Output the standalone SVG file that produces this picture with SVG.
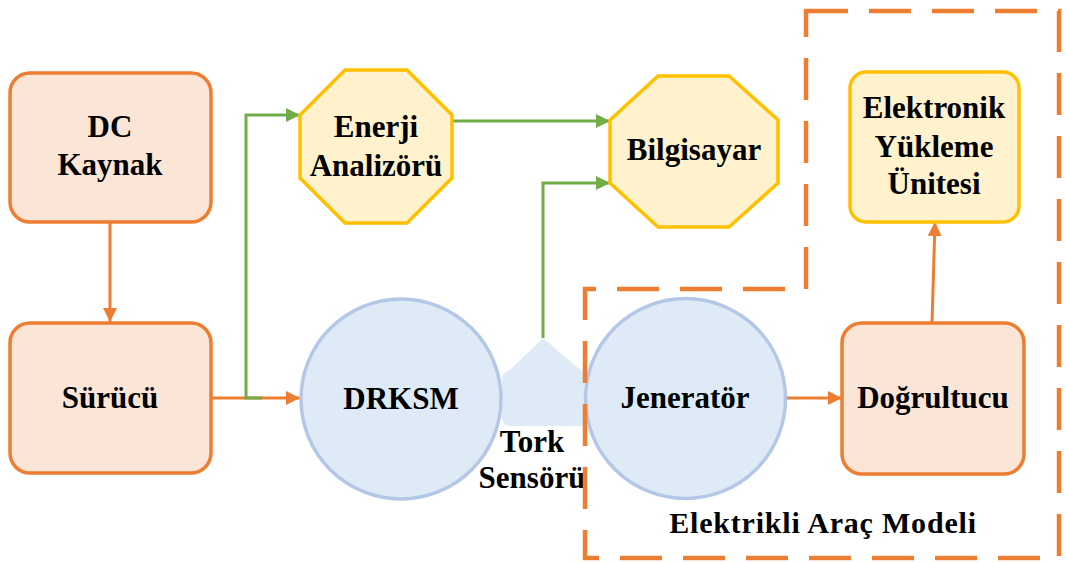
<svg xmlns="http://www.w3.org/2000/svg" width="1066" height="563" viewBox="0 0 1066 563" font-family="Liberation Serif, DejaVu Serif, serif">
<defs>
<style>
text{font-family:"Liberation Serif","DejaVu Serif",serif}
.lbl{font-weight:bold;font-size:31px;fill:#000;text-anchor:middle}
.obox{fill:#FBE5D6;stroke:#ED7D31;stroke-width:3.5}
.ybox{fill:#FFF2CC;stroke:#FFC000;stroke-width:3.5}
.circ{fill:#DEEBF7;stroke:#B4C7E7;stroke-width:3.5}
.oline{fill:none;stroke:#ED7D31;stroke-width:3}
.gline{fill:none;stroke:#70AD47;stroke-width:3}
.dash{fill:none;stroke:#ED7D31;stroke-width:4.5;stroke-dasharray:42 21}
</style>
<marker id="ao" viewBox="0 0 12 12" refX="12" refY="6" markerWidth="14" markerHeight="14" markerUnits="userSpaceOnUse" orient="auto">
<path d="M0,0 L12,6 L0,12 z" fill="#ED7D31"/>
</marker>
<marker id="ag" viewBox="0 0 12 12" refX="12" refY="6" markerWidth="14" markerHeight="14" markerUnits="userSpaceOnUse" orient="auto">
<path d="M0,0 L12,6 L0,12 z" fill="#70AD47"/>
</marker>
</defs>
<rect width="1066" height="563" fill="#fff"/>

<g id="tork-sensoru">
<path d="M502,380 Q502,372 510,370 L543,338 L584,373 L586,426 L510,426 Q502,426 502,418 Z" fill="#DEEBF7"/>
<text class="lbl" x="532" y="452">Tork</text>
<text class="lbl" x="532" y="488">Sensörü</text>
</g>

<g id="connectors">
<path class="oline" d="M110,222 L110,322" marker-end="url(#ao)"/>
<path class="oline" d="M211,398 L300,398" marker-end="url(#ao)"/>
<path class="gline" d="M262,398 L246,398 L246,115 L300,115" marker-end="url(#ag)"/>
<path class="gline" d="M452,121 L610,121" marker-end="url(#ag)"/>
<path class="gline" d="M543,338 L543,183 L610,183" marker-end="url(#ag)"/>
<path class="oline" d="M786,398 L842,398" marker-end="url(#ao)"/>
<path class="oline" d="M932,323 L935,222" marker-end="url(#ao)"/>
</g>

<g id="dc-kaynak">
<rect class="obox" x="10" y="73" width="201" height="149" rx="20"/>
<text class="lbl" x="110" y="137">DC</text>
<text class="lbl" x="110" y="175">Kaynak</text>
</g>

<g id="surucu">
<rect class="obox" x="10" y="323" width="201" height="150" rx="20"/>
<text class="lbl" x="110" y="408">Sürücü</text>
</g>

<g id="enerji-analizoru">
<polygon class="ybox" points="345,70 407,70 452,115 452,178 407,223 345,223 300,178 300,115"/>
<text class="lbl" x="376" y="137">Enerji</text>
<text class="lbl" x="376" y="176">Analizörü</text>
</g>

<g id="bilgisayar">
<polygon class="ybox" points="658,76 729,76 778,120 778,183 729,227 658,227 610,183 610,120"/>
<text class="lbl" x="694" y="160">Bilgisayar</text>
</g>

<g id="drksm">
<circle class="circ" cx="401" cy="399" r="100"/>
<text class="lbl" x="401" y="409">DRKSM</text>
</g>

<g id="jenerator">
<circle class="circ" cx="685.5" cy="398.5" r="100"/>
<text class="lbl" x="685" y="408">Jeneratör</text>
</g>

<g id="dogrultucu">
<rect class="obox" x="842" y="323" width="182" height="151" rx="20"/>
<text class="lbl" x="933" y="408">Doğrultucu</text>
</g>

<g id="elektronik-yukleme">
<rect class="ybox" x="850" y="72" width="169" height="150" rx="16"/>
<text class="lbl" x="934" y="118">Elektronik</text>
<text class="lbl" x="934" y="157">Yükleme</text>
<text class="lbl" x="934" y="194">Ünitesi</text>
</g>

<g id="elektrikli-arac-modeli">
<path class="dash" d="M806,11 L1059,11 L1059,558 L585,558 L585,289 L806,289 Z"/>
<text class="lbl" x="823" y="533" style="font-size:30px;letter-spacing:0.8px">Elektrikli Araç Modeli</text>
</g>
</svg>
